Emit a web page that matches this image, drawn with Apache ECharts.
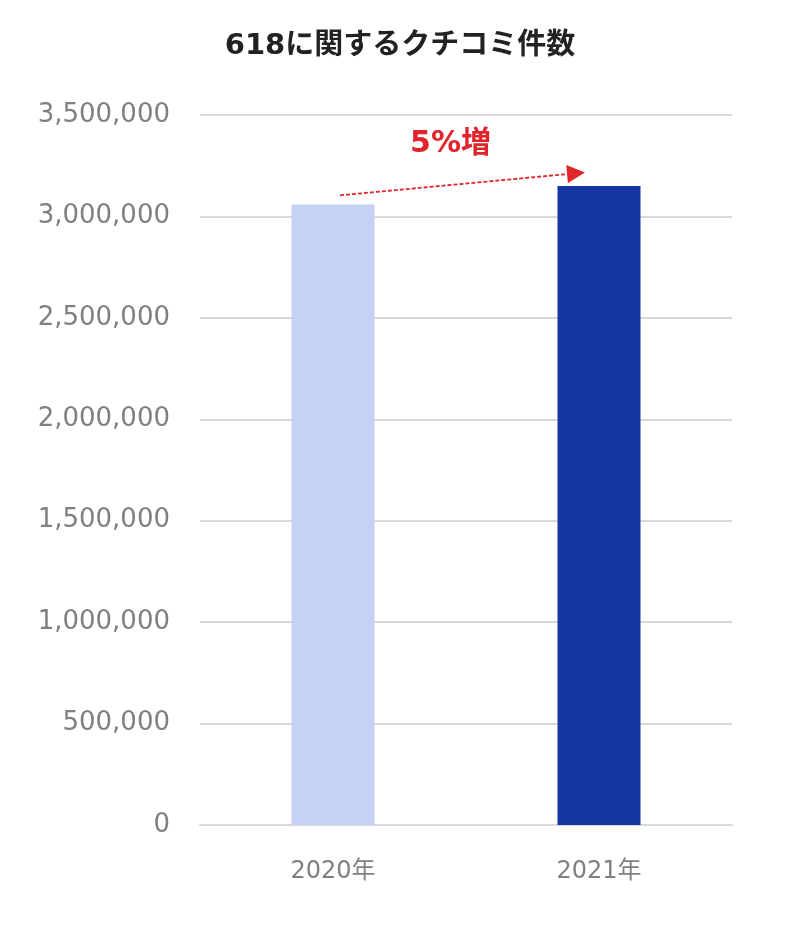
<!DOCTYPE html>
<html>
<head>
<meta charset="utf-8">
<script src="https://cdn.jsdelivr.net/npm/echarts@6/dist/echarts.min.js"></script>
<style>
html,body{margin:0;padding:0;background:#fff;}
#chart{width:800px;height:932px;}
</style>
</head>
<body>
<div id="chart"></div>
<script>
var titleText = '618に関するクチコミ件数';
var categories = ['2020年', '2021年'];
var values = [3059000, 3150000];
var barColors = ['#c6d2f5', '#1537a3'];
var growthLabel = '5%増';
var arrowFrom = 3104000;
var arrowTo = 3217000;

var chart = echarts.init(document.getElementById('chart'));
var option = {
  animation: false,
  backgroundColor: '#fff',
  title: {
    text: titleText,
    left: 'center',
    top: 27,
    textStyle: {
      fontFamily: 'DejaVu Sans, "Noto Sans CJK JP"',
      fontSize: 29,
      fontWeight: 'bold',
      color: '#222'
    }
  },
  grid: { left: 200, right: 68, top: 115, bottom: 107 },
  xAxis: {
    type: 'category',
    data: categories,
    axisLine: { show: true, lineStyle: { color: '#d9d9d9', width: 2 } },
    axisTick: { show: false },
    axisLabel: {
      margin: 35,
      fontFamily: 'DejaVu Sans, "Noto Sans CJK JP"',
      fontSize: 24,
      color: '#808080'
    }
  },
  yAxis: {
    type: 'value',
    min: 0,
    max: 3500000,
    interval: 500000,
    axisLine: { show: false },
    axisTick: { show: false },
    splitLine: { lineStyle: { color: '#d9d9d9', width: 2 } },
    axisLabel: {
      margin: 30,
      fontFamily: 'DejaVu Sans',
      fontSize: 26,
      color: '#808080',
      formatter: function (v) { return v.toLocaleString('en-US'); }
    }
  },
  series: [{
    type: 'bar',
    barWidth: 83,
    data: values.map(function (v, i) {
      return { value: v, itemStyle: { color: barColors[i] } };
    })
  }]
};
chart.setOption(option);

var p0 = chart.convertToPixel({ gridIndex: 0 }, [categories[0], arrowFrom]);
var p1 = chart.convertToPixel({ gridIndex: 0 }, [categories[1], arrowTo]);
var sx = p0[0] + 7, sy = p0[1];
var ex = p1[0] - 14, ey = p1[1];
var ang = Math.atan2(ey - sy, ex - sx);
var len = 18, hw = 9;
var bx = ex - len * Math.cos(ang), by = ey - len * Math.sin(ang);
var nx = -Math.sin(ang), ny = Math.cos(ang);

chart.setOption({
  graphic: [
    {
      type: 'line',
      shape: { x1: sx, y1: sy, x2: bx, y2: by },
      style: { stroke: '#e0242c', lineWidth: 1.8, lineDash: [4, 2] }
    },
    {
      type: 'polygon',
      shape: { points: [[ex, ey], [bx + nx * hw, by + ny * hw], [bx - nx * hw, by - ny * hw]] },
      style: { fill: '#e0242c' }
    },
    {
      type: 'text',
      x: (sx + ex) / 2 - 12,
      y: 144,
      style: {
        text: growthLabel,
        fill: '#e0242c',
        font: 'bold 30px "DejaVu Sans", "Noto Sans CJK JP"',
        align: 'center',
        verticalAlign: 'middle'
      }
    }
  ]
});
</script>
</body>
</html>
